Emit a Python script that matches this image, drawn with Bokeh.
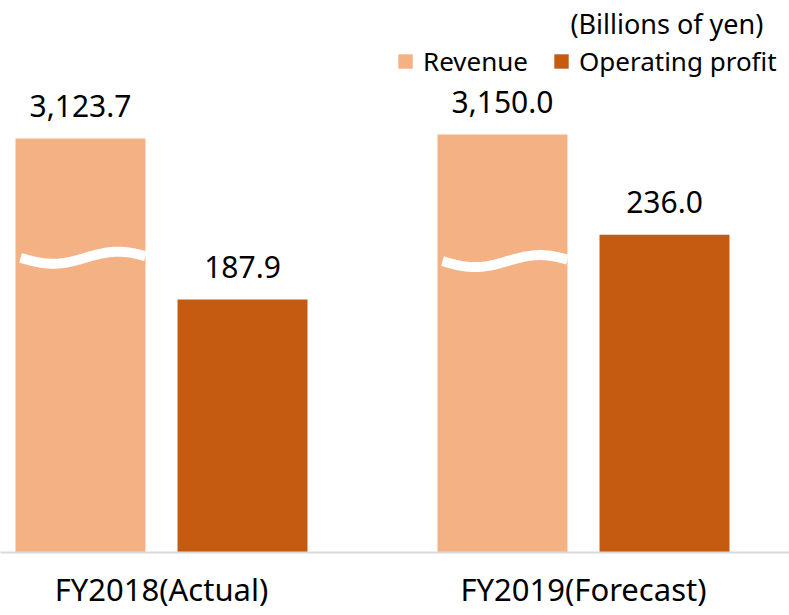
import numpy as np
from bokeh.plotting import figure
from bokeh.models import Range1d, FixedTicker, Legend, LegendItem, Label, ColumnDataSource
from bokeh.core.properties import value
from bokeh.embed import file_html
from bokeh.resources import INLINE

# ---- data ----
categories = ["FY2018(Actual)", "FY2019(Forecast)"]
revenue = [3123.7, 3150.0]
op_profit = [187.9, 236.0]
revenue_labels = ["3,123.7", "3,150.0"]
profit_labels = ["187.9", "236.0"]
unit_note = "(Billions of yen)"

# broken-axis compression for revenue (drawn with a break mark)
REV_SCALE = 0.1135
REV_SHIFT = 47.0
BREAK_LEVEL = [219.0, 216.5]

FONT = "Noto Sans"
REV_COLOR = "#F4B183"
OP_COLOR = "#C55A11"

x_idx = np.arange(len(categories))
BAR_W = 0.308
OFF = 0.192

rev_disp = [v * REV_SCALE - REV_SHIFT for v in revenue]

p = figure(frame_width=789, frame_height=552,
           x_range=Range1d(-0.3815, 1.4882), y_range=Range1d(0, 410.1),
           output_backend="svg", toolbar_location=None, min_border=0)
p.outline_line_color = None
p.grid.visible = False
p.yaxis.visible = False
p.background_fill_color = "white"
p.border_fill_color = "white"

rev_src = ColumnDataSource(dict(x=x_idx - OFF, top=rev_disp, label=revenue_labels))
op_src = ColumnDataSource(dict(x=x_idx + OFF, top=op_profit, label=profit_labels))

r_rev = p.vbar(x="x", top="top", bottom=0, width=BAR_W, source=rev_src,
               fill_color=REV_COLOR, line_color=None)
r_op = p.vbar(x="x", top="top", bottom=0, width=BAR_W, source=op_src,
              fill_color=OP_COLOR, line_color=None)

# break marks (white wave) across revenue bars
xs, ys = [], []
for i, xc in enumerate(x_idx - OFF):
    left = xc - BAR_W / 2 + 0.012
    right = xc + BAR_W / 2
    t = np.linspace(left, right, 80)
    xs.append(t)
    ys.append(BREAK_LEVEL[i] - 4.46 * np.sin(2 * np.pi * (t - left) / BAR_W))
p.multi_line(xs, ys, line_color="white", line_width=10, line_cap="butt")

# value labels
for src in (rev_src, op_src):
    p.text(x="x", y="top", text="label", source=src, text_align="center",
           text_baseline="alphabetic", y_offset=-33,
           text_font=value(FONT), text_font_size="30px", text_color="#000000")

# x axis as the baseline
ax = p.xaxis[0]
ax.ticker = FixedTicker(ticks=list(x_idx))
ax.major_label_overrides = {int(i): c for i, c in zip(x_idx, categories)}
ax.axis_line_color = "#D9D9D9"
ax.axis_line_width = 2
ax.major_tick_line_color = None
ax.minor_tick_line_color = None
ax.major_label_standoff = 9
ax.major_label_text_font = FONT
ax.major_label_text_font_size = "31px"
ax.major_label_text_color = "#000000"

# legend
legend = Legend(items=[LegendItem(label="Revenue", renderers=[r_rev]),
                       LegendItem(label="Operating profit", renderers=[r_op])],
                orientation="horizontal", location=(396, 473),
                label_text_font=FONT, label_text_font_size="26px",
                label_text_color="#000000",
                glyph_width=18, glyph_height=18, label_standoff=9, spacing=24,
                padding=0, margin=0, border_line_color=None,
                background_fill_alpha=0)
p.add_layout(legend)

p.add_layout(Label(x=0.969, y=393.0, text=unit_note, text_font=FONT,
                   text_font_size="27px", text_color="#000000",
                   text_baseline="alphabetic", text_align="left"))

open("out.html", "w").write(file_html(p, INLINE))
